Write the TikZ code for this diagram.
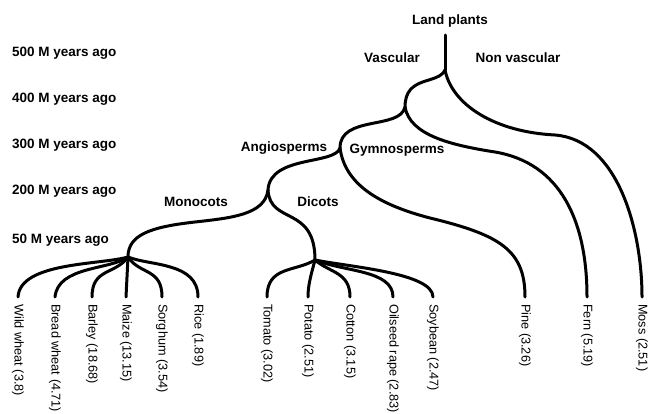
\documentclass[tikz,border=0pt]{standalone}
\usepackage{fontspec}
\setmainfont{Liberation Sans}
\begin{document}
\begin{tikzpicture}[x=1pt,y=-1pt,
  branch/.style={line width=3pt, line cap=round, line join=round},
  clade/.style={font=\fontsize{13.5}{16}\selectfont\bfseries, inner sep=0pt},
  era/.style={font=\fontsize{13.5}{16}\selectfont\bfseries, anchor=west, inner sep=0pt},
  leaf/.style={font=\fontsize{12.7}{15}\selectfont, rotate=-90, anchor=west, inner sep=0pt}]
\useasboundingbox (0,0) rectangle (650,414);

% era labels
\node[era] (e500) at (12,53) {500 M years ago};
\node[era] (e400) at (12,99) {400 M years ago};
\node[era] (e300) at (12,145) {300 M years ago};
\node[era] (e200) at (12,191) {200 M years ago};
\node[era] (e50)  at (12,240) {50 M years ago};

% clade labels
\node[clade] (land) at (450,21) {Land plants};
\node[clade] (vasc) at (392,58) {Vascular};
\node[clade] (nonv) at (518,58) {Non vascular};
\node[clade] (gymn) at (397,150) {Gymnosperms};
\node[clade] (angi) at (284,148) {Angiosperms};
\node[clade] (mono) at (196,202) {Monocots};
\node[clade] (dico) at (318,202) {Dicots};

% junctions
\coordinate (top) at (445,35);
\coordinate (R) at (445,70);
\coordinate (V) at (405,107);
\coordinate (G) at (340,148);
\coordinate (A) at (268,190);
\coordinate (M) at (128,257);
\coordinate (D) at (315,260);

% leaves
\coordinate (lww) at (18,297);
\coordinate (lbw) at (55,297);
\coordinate (lba) at (92,297);
\coordinate (lma) at (126,297);
\coordinate (lso) at (162,297);
\coordinate (lri) at (198,297);
\coordinate (lto) at (267,297);
\coordinate (lpo) at (308,297);
\coordinate (lco) at (350,297);
\coordinate (lol) at (393,297);
\coordinate (lsb) at (433,297);
\coordinate (lpi) at (525,297);
\coordinate (lfe) at (587,297);
\coordinate (lmo) at (642,297);

% leaf labels
\tikzset{lbl/.style={yshift=-7pt}}
\node[leaf] (tww) at ([yshift=-7pt]lww) {Wild wheat (3.8)};
\node[leaf] (tbw) at ([yshift=-7pt]lbw) {Bread wheat (4.71)};
\node[leaf] (tba) at ([yshift=-7pt]lba) {Barley (18.68)};
\node[leaf] (tma) at ([yshift=-7pt]lma) {Maize (13.15)};
\node[leaf] (tso) at ([yshift=-7pt]lso) {Sorghum (3.54)};
\node[leaf] (tri) at ([yshift=-7pt]lri) {Rice (1.89)};
\node[leaf] (tto) at ([yshift=-7pt]lto) {Tomato (3.02)};
\node[leaf] (tpo) at ([yshift=-7pt]lpo) {Potato (2.51)};
\node[leaf] (tco) at ([yshift=-7pt]lco) {Cotton (3.15)};
\node[leaf] (tol) at ([yshift=-7pt]lol) {Oilseed rape (2.83)};
\node[leaf] (tsb) at ([yshift=-7pt]lsb) {Soybean (2.47)};
\node[leaf] (tpi) at ([yshift=-7pt]lpi) {Pine (3.26)};
\node[leaf] (tfe) at ([yshift=-7pt]lfe) {Fern (5.19)};
\node[leaf] (tmo) at ([yshift=-7pt]lmo) {Moss (2.51)};

% backbone
\draw[branch] (top) -- (R);
\draw[branch] (R) .. controls (452,105) and (495,132) .. (555,135)
                  .. controls (618,140) and (642,230) .. (lmo);
\draw[branch] (R) .. controls (438,85) and (405,75) .. (V);
\draw[branch] (V) .. controls (410,135) and (450,145) .. (495,152)
                  .. controls (560,163) and (587,220) .. (lfe);
\draw[branch] (V) .. controls (400,130) and (340,115) .. (G);
\draw[branch] (G) .. controls (345,185) and (380,205) .. (430,218)
                  .. controls (500,235) and (525,250) .. (lpi);
\draw[branch] (G) .. controls (335,165) and (270,155) .. (A);
\draw[branch] (A) .. controls (265,215) and (230,218) .. (195,222)
                  .. controls (150,227) and (128,235) .. (M);
\draw[branch] (A) .. controls (270,225) and (315,205) .. (D);

% monocot fan
\draw[branch] (M) .. controls (100,265) and (20,262) .. (lww);
\draw[branch] (M) .. controls (110,270) and (58,266) .. (lbw);
\draw[branch] (M) .. controls (115,275) and (92,268) .. (lba);
\draw[branch] (M) -- (lma);
\draw[branch] (M) .. controls (140,275) and (162,268) .. (lso);
\draw[branch] (M) .. controls (150,266) and (198,262) .. (lri);

% dicot fan
\draw[branch] (D) .. controls (295,272) and (267,266) .. (lto);
\draw[branch] (D) .. controls (311,275) and (308,285) .. (lpo);
\draw[branch] (D) .. controls (330,273) and (350,272) .. (lco);
\draw[branch] (D) .. controls (345,272) and (393,270) .. (lol);
\draw[branch] (D) .. controls (350,267) and (433,273) .. (lsb);
\end{tikzpicture}
\end{document}
